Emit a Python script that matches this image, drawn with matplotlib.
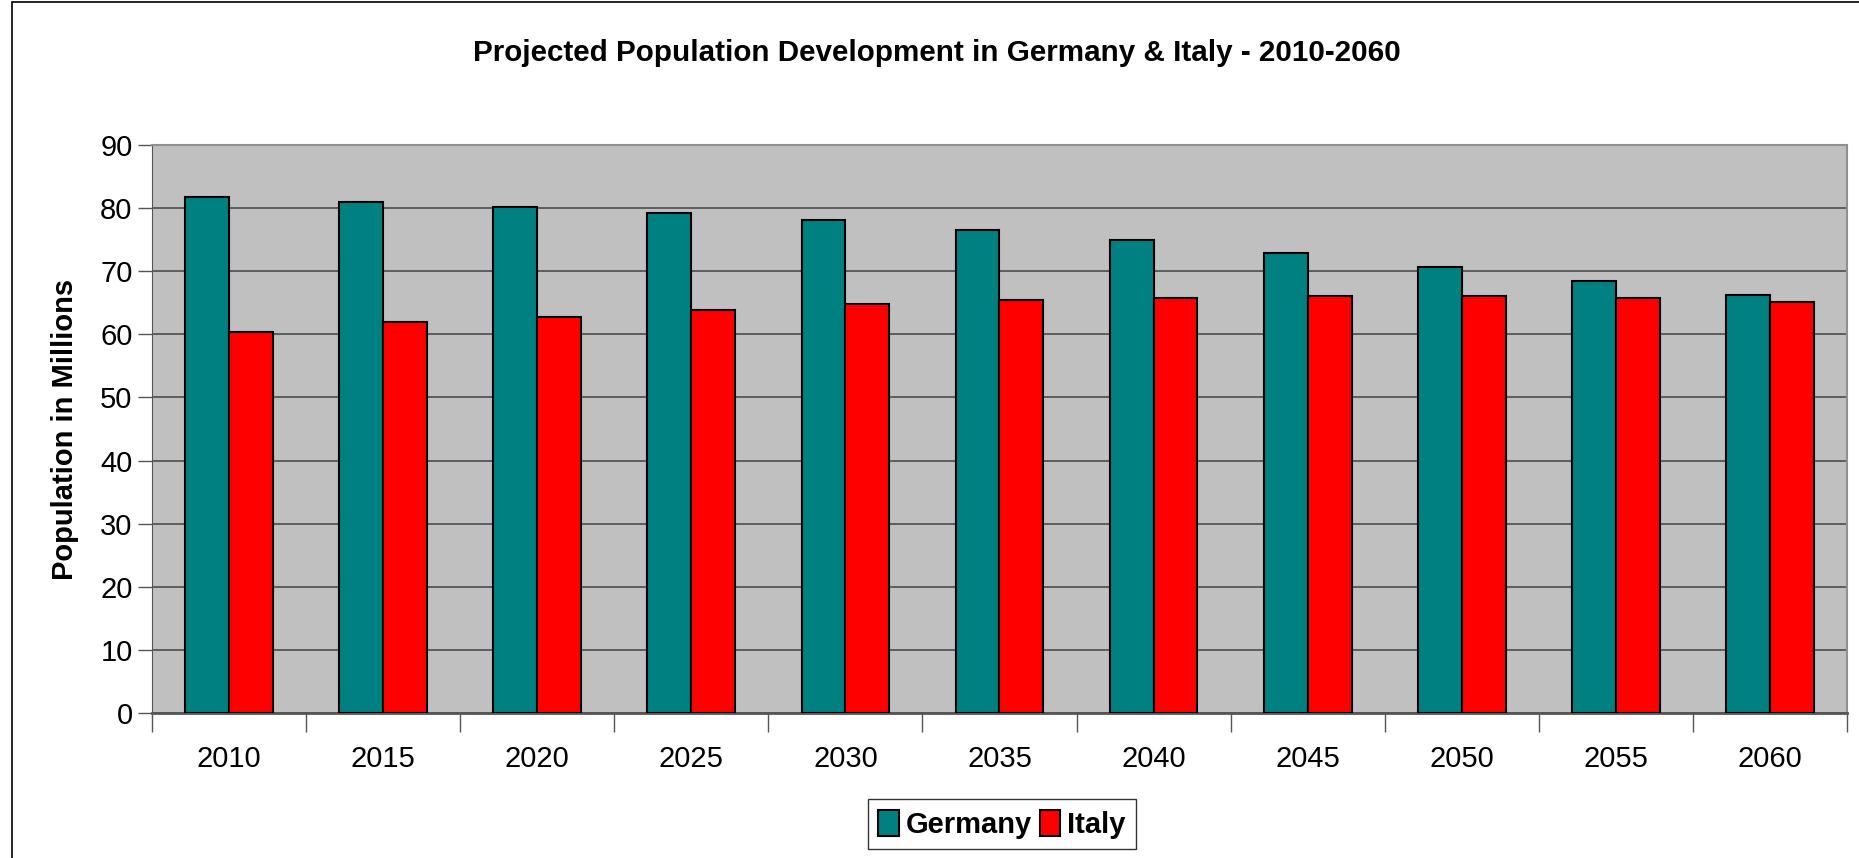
import numpy as np
import matplotlib.pyplot as plt
from matplotlib.patches import Rectangle

plt.rcParams['font.family'] = ['Liberation Sans', 'DejaVu Sans']

years = ['2010', '2015', '2020', '2025', '2030', '2035', '2040', '2045', '2050', '2055', '2060']
germany = [81.8, 80.9, 80.2, 79.3, 78.1, 76.5, 74.9, 72.9, 70.7, 68.5, 66.3]
italy = [60.4, 61.9, 62.8, 63.8, 64.8, 65.4, 65.7, 66.0, 66.0, 65.7, 65.1]

fig = plt.figure(figsize=(18.59, 8.58), dpi=100)
ax = fig.add_axes([0.0818, 0.169, 0.9117, 0.662])

# outer chart border
fig.patches.append(Rectangle((12/1859, -0.05), 1.1, 1.05 - 2/858, transform=fig.transFigure,
                             fill=False, edgecolor='black', linewidth=1.2))

x = np.arange(len(years))
w = 0.285
ax.set_facecolor('#c0c0c0')
ax.bar(x - w/2, germany, w, color='#008080', edgecolor='black', linewidth=1.5, label='Germany', zorder=3)
ax.bar(x + w/2, italy, w, color='#ff0000', edgecolor='black', linewidth=1.5, label='Italy', zorder=3)

ax.set_xlim(-0.5, len(years) - 0.5)
ax.set_ylim(0, 90)
ax.set_yticks(np.arange(0, 91, 10))
ax.yaxis.grid(True, color='#555555', linewidth=1.3, zorder=0)
ax.set_axisbelow(True)

ax.set_xticks(x)
ax.set_xticklabels(years)
ax.set_xticks(np.arange(-0.5, len(years), 1), minor=True)
ax.tick_params(axis='x', which='major', length=0, pad=23, labelsize=21)
ax.tick_params(axis='x', which='minor', length=14, width=1, color='#555555')
ax.tick_params(axis='y', length=10, width=1, color='#555555', labelsize=21, pad=4)

for s in ['top', 'right']:
    ax.spines[s].set_color('#909090')
    ax.spines[s].set_linewidth(1.5)
ax.spines['left'].set_color('#555555')
ax.spines['bottom'].set_color('#555555')
ax.spines['bottom'].set_linewidth(2)

ax.set_ylabel('Population in Millions', fontsize=21, fontweight='bold')
ax.yaxis.set_label_coords(-0.043, 0.5)
fig.text(0.504, 1 - 53/858, 'Projected Population Development in Germany & Italy - 2010-2060',
         fontsize=21.3, fontweight='bold', ha='center', va='center')

leg = fig.legend(loc='center', bbox_to_anchor=(0.539, 0.0396), ncol=2, frameon=True,
                 prop={'size': 21, 'weight': 'bold'}, handlelength=0.7, handleheight=1.0,
                 handletextpad=0.25, columnspacing=0.25, borderpad=0.35, fancybox=False)
leg.get_frame().set_edgecolor('black')
leg.get_frame().set_linewidth(1.0)

fig.savefig('out.png', dpi=100)
